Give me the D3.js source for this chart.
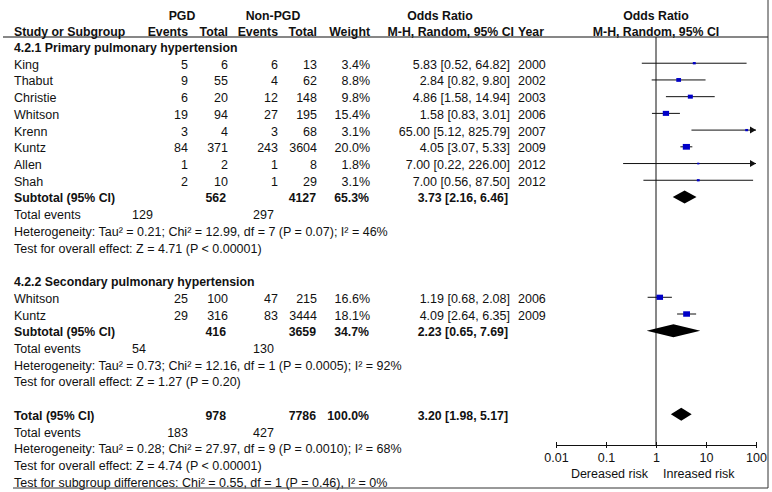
<!DOCTYPE html>
<html>
<head>
<meta charset="utf-8">
<script src="https://cdn.jsdelivr.net/npm/d3@7"></script>
<style>
  body { margin: 0; background: #fff; }
  svg text { font-family: "Liberation Sans", Arial, sans-serif; font-size: 12.5px; fill: #111; }
  svg text.b { font-weight: bold; font-size: 12.3px; }
</style>
</head>
<body>
<div id="chart"></div>
<script>
// 4.2.1 primary pulmonary hypertension
const studies1 = ['King', 'Thabut', 'Christie', 'Whitson', 'Krenn', 'Kuntz', 'Allen', 'Shah'];
const years1 = [2000, 2002, 2003, 2006, 2007, 2009, 2012, 2012];
const pgdEvents1 = [5, 9, 6, 19, 3, 84, 1, 2];
const pgdTotal1 = [6, 55, 20, 94, 4, 371, 2, 10];
const nonEvents1 = [6, 4, 12, 27, 3, 243, 1, 1];
const nonTotal1 = [13, 62, 148, 195, 68, 3604, 8, 29];
const weight1 = [3.4, 8.8, 9.8, 15.4, 3.1, 20.0, 1.8, 3.1];
const or1 = [5.83, 2.84, 4.86, 1.58, 65.00, 4.05, 7.00, 7.00];
const lo1 = [0.52, 0.82, 1.58, 0.83, 5.12, 3.07, 0.22, 0.56];
const hi1 = [64.82, 9.80, 14.94, 3.01, 825.79, 5.33, 226.00, 87.50];

// 4.2.2 secondary pulmonary hypertension
const studies2 = ['Whitson', 'Kuntz'];
const years2 = [2006, 2009];
const pgdEvents2 = [25, 29];
const pgdTotal2 = [100, 316];
const nonEvents2 = [47, 83];
const nonTotal2 = [215, 3444];
const weight2 = [16.6, 18.1];
const or2 = [1.19, 4.09];
const lo2 = [0.68, 2.64];
const hi2 = [2.08, 6.35];

// subgroup summaries (primary, secondary)
const groupTitles = ['4.2.1 Primary pulmonary hypertension', '4.2.2 Secondary pulmonary hypertension'];
const subPgdTotal = [562, 416];
const subNonTotal = [4127, 3659];
const subWeight = [65.3, 34.7];
const subOr = [3.73, 2.23];
const subLo = [2.16, 0.65];
const subHi = [6.46, 7.69];
const subPgdEvents = [129, 54];
const subNonEvents = [297, 130];
const subHet = [
  'Heterogeneity: Tau\u00b2 = 0.21; Chi\u00b2 = 12.99, df = 7 (P = 0.07); I\u00b2 = 46%',
  'Heterogeneity: Tau\u00b2 = 0.73; Chi\u00b2 = 12.16, df = 1 (P = 0.0005); I\u00b2 = 92%'
];
const subEffect = ['Test for overall effect: Z = 4.71 (P < 0.00001)', 'Test for overall effect: Z = 1.27 (P = 0.20)'];

// overall
const totalCounts = [978, 7786];
const totalEvents = [183, 427];
const totalWeight = 100.0;
const totalCi = [3.20, 1.98, 5.17];
const totalNotes = [
  'Heterogeneity: Tau\u00b2 = 0.28; Chi\u00b2 = 27.97, df = 9 (P = 0.0010); I\u00b2 = 68%',
  'Test for overall effect: Z = 4.74 (P < 0.00001)',
  'Test for subgroup differences: Chi\u00b2 = 0.55, df = 1 (P = 0.46), I\u00b2 = 0%'
];

const axisTicks = [0.01, 0.1, 1, 10, 100];
const axisLabels = ['0.01', '0.1', '1', '10', '100'];
const favourLabels = ['Dereased risk', 'Inreased risk'];

const width = 772, height = 492;

const svg = d3.select('#chart').append('svg')
  .attr('width', width)
  .attr('height', height);

const x_sc = d3.scaleLog().domain([0.01, 100]).range([556, 756]);
const y_sc = d3.scaleLinear().domain([0, 26]).range([46.5, 481.2]);

const col = { ev1: 188, n1: 228, ev2: 278, n2: 317, w: 370, or: 510, year: 518 };
const f2 = d3.format('.2f');
const ciText = (o, l, h) => `${f2(o)} [${f2(l)}, ${f2(h)}]`;
const pct = v => d3.format('.1f')(v) + '%';

const groups = [
  { studies: studies1, years: years1, e1: pgdEvents1, n1: pgdTotal1, e2: nonEvents1, n2: nonTotal1, w: weight1, or: or1, lo: lo1, hi: hi1 },
  { studies: studies2, years: years2, e1: pgdEvents2, n1: pgdTotal2, e2: nonEvents2, n2: nonTotal2, w: weight2, or: or2, lo: lo2, hi: hi2 }
];

// build row list
const rows = [];
groups.forEach((g, gi) => {
  rows.push({ type: 'title', text: groupTitles[gi] });
  g.studies.forEach((s, i) => rows.push({ type: 'study', g, i }));
  rows.push({ type: 'sub', gi });
  rows.push({ type: 'events', e1: subPgdEvents[gi], e2: subNonEvents[gi], left: true });
  rows.push({ type: 'note', text: subHet[gi] });
  rows.push({ type: 'note', text: subEffect[gi] });
  rows.push({ type: 'blank' });
});
rows.push({ type: 'total' });
rows.push({ type: 'events', e1: totalEvents[0], e2: totalEvents[1], left: false });
totalNotes.forEach(t => rows.push({ type: 'note', text: t }));

const txt = (x, y, s, anchor = 'start', bold = false) =>
  svg.append('text').attr('x', x).attr('y', y).attr('text-anchor', anchor)
    .attr('class', bold ? 'b' : null).text(s);

// header
txt(182, 19.5, 'PGD', 'middle', true);
txt(273, 19.5, 'Non-PGD', 'middle', true);
txt(440, 19.5, 'Odds Ratio', 'middle', true);
txt(656, 19.5, 'Odds Ratio', 'middle', true);
txt(14, 35.5, 'Study or Subgroup', 'start', true);
txt(col.ev1, 35.5, 'Events', 'end', true);
txt(col.n1, 35.5, 'Total', 'end', true);
txt(col.ev2, 35.5, 'Events', 'end', true);
txt(col.n2, 35.5, 'Total', 'end', true);
txt(col.w, 35.5, 'Weight', 'end', true);
txt(514, 35.5, 'M-H, Random, 95% CI', 'end', true);
txt(col.year, 35.5, 'Year', 'start', true);
txt(656, 35.5, 'M-H, Random, 95% CI', 'middle', true);

// frame lines
svg.append('line').attr('x1', 3).attr('x2', 768).attr('y1', 37).attr('y2', 37).attr('stroke', '#111').attr('stroke-width', 1.2);
svg.append('line').attr('x1', 768).attr('x2', 768).attr('y1', 0).attr('y2', 488).attr('stroke', '#333');
svg.append('line').attr('x1', 13).attr('x2', 768).attr('y1', 488).attr('y2', 488).attr('stroke', '#333');

// null line
svg.append('line').attr('x1', x_sc(1)).attr('x2', x_sc(1)).attr('y1', 37).attr('y2', 445).attr('stroke', '#111');

const diamond = (y, o, l, h, hh) => {
  svg.append('polygon')
    .attr('points', [[x_sc(l), y], [x_sc(o), y - hh], [x_sc(h), y], [x_sc(o), y + hh]].join(' '))
    .attr('fill', '#000');
};

rows.forEach((r, idx) => {
  const y = y_sc(idx);
  const ty = y + 5.5;
  if (r.type === 'title') {
    txt(14, ty, r.text, 'start', true);
  } else if (r.type === 'study') {
    const g = r.g, i = r.i;
    txt(14, ty, g.studies[i]);
    txt(col.ev1, ty, g.e1[i], 'end');
    txt(col.n1, ty, g.n1[i], 'end');
    txt(col.ev2, ty, g.e2[i], 'end');
    txt(col.n2, ty, g.n2[i], 'end');
    txt(col.w, ty, pct(g.w[i]), 'end');
    txt(col.or, ty, ciText(g.or[i], g.lo[i], g.hi[i]), 'end');
    txt(col.year, ty, g.years[i]);
    const x0 = x_sc(Math.max(g.lo[i], 0.01));
    const x1 = x_sc(Math.min(g.hi[i], 100));
    svg.append('line').attr('x1', x0).attr('x2', x1).attr('y1', y).attr('y2', y).attr('stroke', '#111');
    if (g.hi[i] > 100) {
      svg.append('path')
        .attr('d', `M${x1},${y} l-6,-3.5 l0,7 Z`)
        .attr('fill', '#111');
    }
    const s = 1.6 * Math.sqrt(g.w[i]);
    svg.append('rect')
      .attr('x', x_sc(g.or[i]) - s / 2)
      .attr('y', y - s * 0.4)
      .attr('width', s)
      .attr('height', s * 0.8)
      .attr('fill', '#0000c8');
  } else if (r.type === 'sub') {
    const gi = r.gi;
    txt(14, ty, 'Subtotal (95% CI)', 'start', true);
    txt(col.n1 - 2, ty, subPgdTotal[gi], 'end', true);
    txt(col.n2 - 1, ty, subNonTotal[gi], 'end', true);
    txt(col.w - 1, ty, pct(subWeight[gi]), 'end', true);
    txt(col.or - 2, ty, ciText(subOr[gi], subLo[gi], subHi[gi]), 'end', true);
    diamond(y, subOr[gi], subLo[gi], subHi[gi], 6.5);
  } else if (r.type === 'events') {
    txt(14, ty, 'Total events');
    if (r.left) txt(132, ty, r.e1);
    else txt(col.ev1, ty, r.e1, 'end');
    txt(253, ty, r.e2);
  } else if (r.type === 'note') {
    txt(14, ty, r.text);
  } else if (r.type === 'total') {
    txt(14, ty, 'Total (95% CI)', 'start', true);
    txt(col.n1 - 2, ty, totalCounts[0], 'end', true);
    txt(col.n2 - 1, ty, totalCounts[1], 'end', true);
    txt(col.w - 1, ty, pct(totalWeight), 'end', true);
    txt(col.or - 2, ty, ciText(totalCi[0], totalCi[1], totalCi[2]), 'end', true);
    diamond(y, totalCi[0], totalCi[1], totalCi[2], 6.5);
  }
});

// log axis
const axis = d3.axisBottom(x_sc)
  .tickValues(axisTicks)
  .tickFormat((d, i) => axisLabels[i])
  .tickSizeInner(3)
  .tickSizeOuter(0)
  .tickPadding(5);

const ax = svg.append('g')
  .attr('transform', 'translate(0,445)')
  .call(axis);
ax.select('.domain').attr('stroke', '#111');
ax.selectAll('.tick line').attr('y1', -3).attr('y2', 3).attr('stroke', '#111');
ax.selectAll('.tick text')
  .style('font-family', '"Liberation Sans", Arial, sans-serif')
  .style('font-size', '12.5px')
  .attr('fill', '#111');

txt(x_sc(1) - 8, 478, favourLabels[0], 'end');
txt(x_sc(1) + 7, 478, favourLabels[1], 'start');
</script>
</body>
</html>
